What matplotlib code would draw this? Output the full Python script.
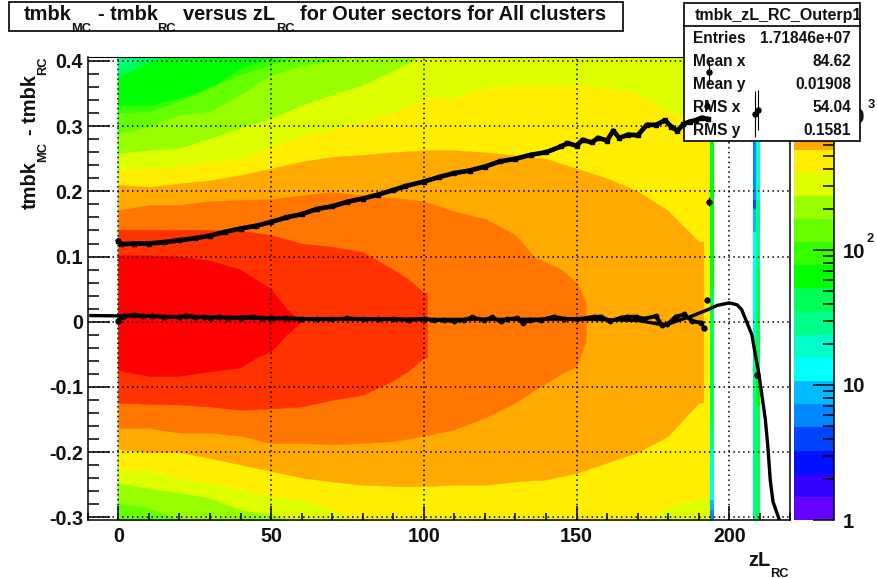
#!/bin/python3

import matplotlib
matplotlib.use('Agg')
import matplotlib.pyplot as plt
from matplotlib.colors import ListedColormap
from matplotlib.patches import Rectangle
import numpy as np

plt.rcParams['font.family'] = ['Liberation Sans', 'DejaVu Sans']
plt.rcParams['font.weight'] = 'bold'

# palette, bottom of the colour bar to the top
palette = ['#6600ff', '#3300ff', '#0011ff', '#0044ff', '#0088ff', '#00bbff', '#00ffff',
           '#00ffcc', '#00ff88', '#00ff55', '#00ff00', '#33ff00', '#66ff00', '#99ff00',
           '#ddff00', '#ffee00', '#ffaa00', '#ff7700', '#ff3300', '#ff0000']
z_max = 2690

# band outlines, one top and one bottom edge per colour level
green_x = [0, 10, 20, 30, 40, 50, 60, 70, 80, 90, 100]
top_8 = [0.41] * 11
top_9 = [0.39, 0.405, 0.41, 0.41, 0.41, 0.41, 0.41, 0.41, 0.41, 0.41, 0.41]
top_10 = [0.375, 0.398, 0.41, 0.41, 0.41, 0.41, 0.41, 0.41, 0.41, 0.41, 0.41]
top_11 = [0.332, 0.332, 0.343, 0.358, 0.389, 0.405, 0.41, 0.41, 0.41, 0.41, 0.41]
top_12 = [0.32, 0.322, 0.338, 0.359, 0.379, 0.394, 0.41, 0.41, 0.41, 0.41, 0.41]
top_13 = [0.289, 0.299, 0.317, 0.322, 0.348, 0.378, 0.392, 0.4, 0.41, 0.41, 0.41]
bot_13 = [-0.278, -0.285, -0.303, -0.31, -0.31, -0.31, -0.31, -0.31, -0.31, -0.31, -0.31]

wide_x = [0, 10, 20, 30, 40, 50, 60, 70, 80, 90, 100, 110, 120, 130, 140, 150, 160, 170, 180, 190, 193.8]
top_14 = [0.258, 0.263, 0.266, 0.281, 0.297, 0.312, 0.332, 0.348, 0.363, 0.385, 0.41,
          0.41, 0.41, 0.41, 0.41, 0.41, 0.41, 0.41, 0.41, 0.41, 0.41]
bot_14 = [-0.247, -0.255, -0.262, -0.27, -0.288, -0.295, -0.31, -0.31, -0.31, -0.31, -0.31,
          -0.31, -0.31, -0.31, -0.31, -0.31, -0.31, -0.31, -0.31, -0.31, -0.31]
top_15 = [0.233, 0.235, 0.238, 0.246, 0.25, 0.268, 0.286, 0.294, 0.307, 0.322, 0.343,
          0.343, 0.358, 0.363, 0.363, 0.363, 0.358, 0.35, 0.322, 0.31, 0.31]
bot_15 = [-0.227, -0.227, -0.24, -0.247, -0.257, -0.268, -0.273, -0.288, -0.31, -0.31, -0.31,
          -0.31, -0.31, -0.31, -0.31, -0.31, -0.31, -0.31, -0.285, -0.27, -0.27]

orange_x = [0, 10, 20, 30, 40, 50, 60, 70, 80, 90, 100, 110, 120, 130, 140, 150, 160, 170, 180, 190, 191.5]
top_16 = [0.21, 0.207, 0.212, 0.217, 0.225, 0.235, 0.2455, 0.253, 0.256, 0.26, 0.263,
          0.263, 0.26, 0.255, 0.25, 0.235, 0.22, 0.2, 0.17, 0.123, 0.123]
bot_16 = [-0.195, -0.2, -0.2, -0.209, -0.219, -0.229, -0.239, -0.245, -0.25, -0.252, -0.252,
          -0.25, -0.25, -0.245, -0.242, -0.232, -0.216, -0.2, -0.175, -0.124, -0.124]

x_17 = [0, 10, 20, 30, 40, 50, 60, 70, 80, 90, 100, 110, 120, 130, 136, 145, 150, 153]
top_17 = [0.171, 0.179, 0.179, 0.185, 0.187, 0.188, 0.194, 0.199, 0.194, 0.19,
          0.185, 0.169, 0.158, 0.133, 0.1, 0.08, 0.06, 0.03]
bot_17 = [-0.163, -0.163, -0.17, -0.17, -0.175, -0.186, -0.186, -0.188, -0.186, -0.183,
          -0.175, -0.165, -0.147, -0.124, -0.105, -0.08, -0.068, -0.03]

x_18 = [0, 10, 20, 30, 40, 50, 60, 70, 80, 90, 95, 100, 101]
top_18 = [0.141, 0.141, 0.141, 0.141, 0.14, 0.133, 0.12, 0.115, 0.107, 0.08, 0.065, 0.045, 0.045]
bot_18 = [-0.124, -0.126, -0.127, -0.13, -0.135, -0.133, -0.13, -0.12, -0.112, -0.09, -0.075, -0.055, -0.055]

x_19 = [0, 10, 20, 30, 40, 45, 50, 55, 60]
top_19 = [0.102, 0.102, 0.1, 0.094, 0.08, 0.065, 0.05, 0.02, 0.0]
bot_19 = [-0.074, -0.083, -0.083, -0.076, -0.07, -0.055, -0.045, -0.02, 0.0]

# the thin columns at the right end: edges top to bottom, level of each piece
col_a_edges = [0.41, 0.05, -0.155, -0.195, -0.24, -0.273, -0.288, -0.31]
col_a_levels = [10, 9, 8, 7, 6, 5, 4]
col_b_edges = [0.41, 0.277, 0.187, 0.173, 0.137, 0.014, -0.048, -0.31]
col_b_levels = [3, 4, 3, 5, 6, 7, 8]
col_c_edges = [0.41, 0.187, 0.084, -0.09, -0.13, -0.31]
col_c_levels = [7, 8, 9, 10, 9]

# profile points
upper_x = [0, 1, 5, 10, 15, 20, 25, 30, 35, 40, 45, 50, 55, 60, 65, 70, 75, 80, 85, 90, 94,
           100, 105, 110, 115, 120, 125, 130, 135, 140, 145, 147, 150, 152, 155, 157, 160,
           162, 164, 167, 170, 173, 176, 179, 181, 183, 185, 187, 189, 191, 193]
upper_y = [0.124, 0.119, 0.12, 0.12, 0.122, 0.125, 0.128, 0.132, 0.138, 0.143, 0.147, 0.153,
           0.16, 0.165, 0.173, 0.177, 0.184, 0.189, 0.195, 0.202, 0.208, 0.215, 0.222, 0.228,
           0.232, 0.238, 0.246, 0.25, 0.256, 0.26, 0.269, 0.274, 0.27, 0.279, 0.275, 0.282,
           0.278, 0.293, 0.282, 0.287, 0.286, 0.302, 0.302, 0.309, 0.299, 0.293, 0.303, 0.307,
           0.309, 0.313, 0.311]
lower_x = [1, 2, 5, 8, 11, 15, 20, 22, 25, 28, 30, 33, 36, 40, 44, 47, 50, 55, 60, 65, 70, 75,
           80, 85, 90, 95, 100, 103.3, 106.6, 109.8, 113.1, 115.8, 119.7, 122.4, 125.1, 127.3,
           130.6, 132.4, 134.9, 138.2, 142.6, 145.9, 150.2, 155.7, 157.9, 161.1, 164.4, 166.6,
           169.3, 172.1, 175.9, 178.1, 179.7, 182.4, 185.2, 187.9, 190.7]
lower_y = [0.0075, 0.009, 0.0105, 0.009, 0.009, 0.0075, 0.0075, 0.0095, 0.0075, 0.0075, 0.006,
           0.0075, 0.0065, 0.0065, 0.0075, 0.0055, 0.005, 0.0055, 0.0045, 0.004, 0.004, 0.005,
           0.004, 0.004, 0.004, 0.003, 0.0046, 0.0026, 0.0026, 0.001, 0.0026, 0.0066, 0.0026,
           0.0066, 0.0005, 0.0036, 0.0056, -0.0015, 0.0026, 0.0026, 0.0077, 0.0046, 0.0036,
           0.0077, 0.0077, 0.001, 0.0061, 0.0077, 0.0077, 0.0046, 0.0087, -0.0056, -0.0041,
           0.0077, 0.0112, 0.001, -0.0015]

# points standing on their own, with their error bars
lone_x = [0, 191.7, 192.8, 192.8, 193.3, 193.5, 208.5, 209.5, 209.2]
lone_y = [0.001, -0.0092, 0.0332, 0.331, 0.184, 0.383, 0.319, 0.325, -0.081]
lone_err = [0.002, 0.003, 0.003, 0.004, 0.007, 0.017, 0.035, 0.031, 0.005]

# fit curve
fit_x = [-9, 0, 20, 50, 100, 150, 170, 175, 178, 181, 184, 187.2, 193.2, 196, 200, 202.5, 204,
         205.8, 207.4, 208.5, 209.6, 210.7, 211.8, 212.7, 213.4, 214.3, 216.4]
fit_y = [0.0095, 0.009, 0.0075, 0.005, 0.0035, 0.004, 0.002, -0.002, -0.0045, -0.002, 0.003,
         0.0077, 0.019, 0.025, 0.029, 0.026, 0.019, -0.0015, -0.02, -0.05, -0.078, -0.114,
         -0.15, -0.196, -0.243, -0.276, -0.304]

stat_names = ['Entries', 'Mean x', 'Mean y', 'RMS x', 'RMS y']
stat_values = ['1.71846e+07', '84.62', '0.01908', '54.04', '0.1581']

x_ticks = [0, 50, 100, 150, 200]
y_ticks = [-0.3, -0.2, -0.1, 0, 0.1, 0.2, 0.3, 0.4]
y_tick_labels = ['-0.3', '-0.2', '-0.1', '0', '0.1', '0.2', '0.3', '0.4']

W, H = 878, 578


def px_axes(fig, x0, y0, x1, y1, **kw):
  return fig.add_axes([x0 / W, 1 - y1 / H, (x1 - x0) / W, (y1 - y0) / H], **kw)


def px_text(fig, x, y, s, size, ha='left', rotation=0, zorder=6):
  fig.text(x / W, 1 - y / H, s, fontsize=size, fontweight='bold', ha=ha, va='center_baseline',
           rotation=rotation, rotation_mode='anchor', zorder=zorder, color='#111111')


def px_box(fig, x0, y0, x1, y1, zorder):
  fig.add_artist(Rectangle((x0 / W, 1 - y1 / H), (x1 - x0) / W, (y1 - y0) / H,
                           transform=fig.transFigure, facecolor='white', edgecolor='black',
                           linewidth=1.2, zorder=zorder))


def band(ax, x, top, bot, level):
  ax.fill_between(x, bot, top, facecolor=palette[level], edgecolor=palette[level], linewidth=0.3, zorder=1)


def column(ax, x0, x1, edges, levels):
  for i, level in enumerate(levels):
    ax.fill_between([x0, x1], edges[i + 1], edges[i], facecolor=palette[level], linewidth=0, zorder=1.5)


def main():
  fig = plt.figure(figsize=(W / 100, H / 100), dpi=100)
  ax = px_axes(fig, 87.8, 57, 790.4, 520)
  x_lim = (-10, 220)
  y_lim = (-0.3041, 0.4061)

  floor = [-0.31] * len(green_x)
  band(ax, green_x[:3], top_8[:3], floor[:3], 8)
  band(ax, green_x[:3], top_9[:3], floor[:3], 9)
  band(ax, green_x, top_10, floor, 10)
  band(ax, green_x, top_11, floor, 11)
  band(ax, green_x, top_12, floor, 12)
  band(ax, green_x, top_13, bot_13, 13)
  band(ax, wide_x, top_14, bot_14, 14)
  band(ax, wide_x, top_15, bot_15, 15)
  band(ax, orange_x, top_16, bot_16, 16)
  band(ax, x_17, top_17, bot_17, 17)
  band(ax, x_18, top_18, bot_18, 18)
  band(ax, x_19, top_19, bot_19, 19)
  column(ax, 193.8, 194.9, col_a_edges, col_a_levels)
  column(ax, 207.9, 208.9, col_b_edges, col_b_levels)
  column(ax, 208.9, 209.9, col_c_edges, col_c_levels)

  ax.set_xlim(x_lim)
  ax.set_ylim(y_lim)
  ax.set_xticks(x_ticks)
  ax.set_xticklabels([])
  ax.set_yticks(y_ticks)
  ax.set_yticklabels([])
  ax.set_xticks(np.arange(-10, 221, 10), minor=True)
  ax.set_yticks(np.arange(-30, 41, 2) / 100, minor=True)
  ax.tick_params(axis='x', which='major', direction='in', length=10, width=1.1, top=False)
  ax.tick_params(axis='x', which='minor', direction='in', length=5, width=1.1, top=False)
  ax.tick_params(axis='y', which='major', direction='in', length=16, width=1.1, right=False)
  ax.tick_params(axis='y', which='minor', direction='in', length=8, width=1.1, right=False)
  ax.grid(which='major', color='black', linestyle=(0, (1, 2.2)), linewidth=1.1)
  ax.set_axisbelow(False)
  for side in ax.spines:
    ax.spines[side].set_linewidth(1.1)
  ax.spines['top'].set_linewidth(0.8)

  for v, s in zip(x_ticks, x_ticks):
    px_text(fig, 118.3 + 3.055 * v, 535, str(s), 14.2, ha='center')
  for v, s in zip(y_ticks, y_tick_labels):
    px_text(fig, 83, 61 + (0.4 - v) * 651.9, s, 14.2, ha='right')

  # colour bar
  cb = px_axes(fig, 794, 57, 834.3, 520)
  z_edges = np.geomspace(1, z_max, len(palette) + 1)
  cb.pcolormesh([0, 1], z_edges, np.arange(len(palette)).reshape(-1, 1),
                cmap=ListedColormap(palette), vmin=0, vmax=len(palette) - 1)
  cb.set_yscale('log')
  cb.set_ylim(1, z_max)
  cb.set_xlim(0, 1)
  cb.set_xticks([])
  cb.yaxis.tick_right()
  cb.set_yticks([1, 10, 100, 1000])
  cb.set_yticklabels([])
  cb.set_yticks([d * m for d in (1, 10, 100, 1000) for m in range(2, 10) if d * m < z_max], minor=True)
  cb.set_yticklabels([], minor=True)
  cb.tick_params(axis='y', which='major', direction='in', length=15, width=1.1)
  cb.tick_params(axis='y', which='minor', direction='in', length=8, width=1.1)
  for side in ('left', 'top'):
    cb.spines[side].set_visible(False)
  cb.spines['bottom'].set_visible(False)
  cb.spines['right'].set_linewidth(1.1)
  px_text(fig, 843, 520, '1', 14.6)
  px_text(fig, 843, 384, '10', 14.6)
  px_text(fig, 843, 251, '10', 14.6)
  px_text(fig, 867, 238, '2', 9.3)
  px_text(fig, 843, 115, '10', 14.6, zorder=1)
  px_text(fig, 868, 104, '3', 9.3)

  # title box
  px_box(fig, 8.5, 2.5, 623, 31, 2)
  px_text(fig, 24, 12, 'tmbk', 14.4)
  px_text(fig, 71, 28, 'MC', 9.3)
  px_text(fig, 98, 12, '- tmbk', 14.4)
  px_text(fig, 157, 28, 'RC', 9.3)
  px_text(fig, 183, 12, 'versus zL', 14.4)
  px_text(fig, 276, 28, 'RC', 9.3)
  px_text(fig, 300, 12, 'for Outer sectors for All clusters', 14.4)

  # axis titles
  px_text(fig, 748, 558, 'zL', 14.4)
  px_text(fig, 770, 572.5, 'RC', 9.3)
  px_text(fig, 28, 209, 'tmbk', 14.4, rotation=90)
  px_text(fig, 42, 162, 'MC', 9.3, rotation=90)
  px_text(fig, 28, 135, '- tmbk', 14.4, rotation=90)
  px_text(fig, 42, 75, 'RC', 9.3, rotation=90)

  # statistics box
  px_box(fig, 684.5, 2.5, 860, 141, 2)
  fig.add_artist(plt.Line2D([684.5 / W, 860 / W], [1 - 26 / H, 1 - 26 / H], color='black',
                            linewidth=1.2, zorder=3))
  px_text(fig, 695, 14, 'tmbk_zL_RC_Outerp1', 11.5, zorder=4)
  for i in range(len(stat_names)):
    row_y = 37 + 23 * i
    px_text(fig, 693, row_y, stat_names[i], 11.2, zorder=4)
    px_text(fig, 851, row_y, stat_values[i], 11.2, ha='right', zorder=4)

  # the profiles lie on top of everything, the statistics box too
  over = px_axes(fig, 87.8, 57, 790.4, 520, zorder=5)
  over.patch.set_alpha(0)
  over.axis('off')
  over.plot(fit_x, fit_y, color='black', linewidth=2.4, solid_joinstyle='round')
  over.plot(upper_x, upper_y, color='black', marker='s', markersize=3.5, linewidth=3.4, clip_on=False)
  over.plot(lower_x, lower_y, color='black', marker='o', markersize=3.2, linewidth=2.8, clip_on=False)
  over.errorbar(lone_x, lone_y, yerr=lone_err, fmt='o', color='black', markersize=3.6,
                elinewidth=0.8, clip_on=False)
  over.set_xlim(x_lim)
  over.set_ylim(y_lim)

  fig.savefig('out.png', dpi=100)


if __name__ == '__main__':
  main()
